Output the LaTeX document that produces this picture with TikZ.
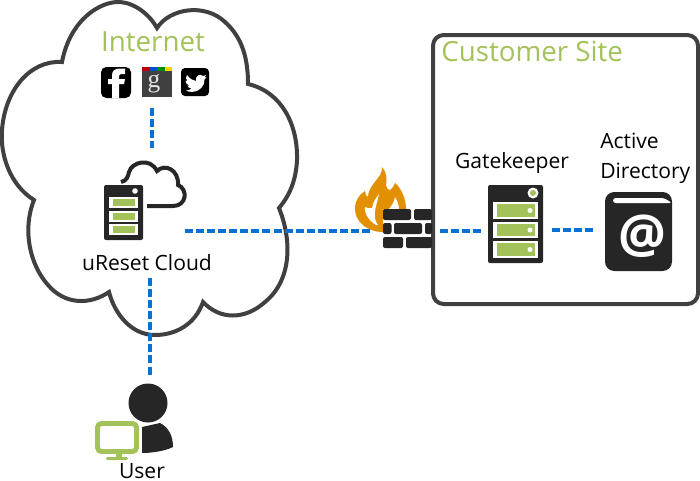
\documentclass[tikz,border=0pt]{standalone}
\usepackage{fontspec}
\setmainfont{Open Sans}
\newfontfamily\gfont{Liberation Serif}
\usetikzlibrary{calc}
\definecolor{edge}{HTML}{404040}
\definecolor{ink}{HTML}{262626}
\definecolor{leaf}{HTML}{A4C25A}
\definecolor{wire}{HTML}{0A70D2}
\definecolor{flame}{HTML}{E29000}
\tikzset{
  x=0.75pt,y=-0.75pt,
  wirelink/.style={draw=wire,line width=2.5pt,dash pattern=on 6pt off 2.3pt},
  outline/.style={draw=edge,line width=3pt,line join=miter},
  label/.style={text=black,font=\fontsize{15.8}{18}\selectfont,inner sep=0pt,align=center},
  greenlabel/.style={text=leaf,font=\fontsize{20.8}{24}\selectfont,inner sep=0pt},
}
\newcommand{\rackbar}[5]{% x0,y0,x1,y1,dot
  \fill[white] (#1,#2) rectangle (#3,#4);
  \fill[leaf] (#1+3.5,#2+2.4) rectangle (#3-3.5,#4-2.4);
  \ifnum#5=1 \fill[white] ($(#3-8,{(#2+#4)/2})$) circle[radius=2.5];\fi
}
\begin{document}
\begin{tikzpicture}
\useasboundingbox (0,0) rectangle (700,480);
\fill[white] (0,0) rectangle (700,480);
% coordinates for connectors
\coordinate (socB) at (152,108);
\coordinate (srvT) at (152,148);
\coordinate (srvR) at (185,231);
\coordinate (fwL) at (370,231);
\coordinate (fwR) at (440,231);
\coordinate (gkL) at (484,231);
\coordinate (gkR) at (552,230);
\coordinate (adL) at (595,230);
\coordinate (srvB) at (150,278);
\coordinate (usrT) at (150,375);
% cloud
\draw[outline] (62,62)
  .. controls (70,20) and (100,1) .. (120,2)
  .. controls (135,3) and (150,15) .. (157,28)
  .. controls (170,8) and (205,3) .. (225,22)
  .. controls (243,38) and (248,60) .. (248,84)
  .. controls (282,92) and (298,125) .. (297,160)
  .. controls (296,180) and (290,195) .. (279,208)
  .. controls (292,240) and (292,280) .. (265,302)
  .. controls (245,320) and (220,320) .. (203,302)
  .. controls (195,325) and (175,335) .. (155,335)
  .. controls (132,335) and (115,315) .. (109,292)
  .. controls (90,305) and (65,305) .. (48,285)
  .. controls (30,265) and (22,230) .. (34,200)
  .. controls (10,185) and (0,155) .. (2,130)
  .. controls (5,90) and (30,60) .. (62,62) -- cycle;
% customer site
\draw[outline,rounded corners=8] (433,35) rectangle (698,304);
% connectors
\draw[wirelink] (socB) -- (srvT);
\draw[wirelink] (srvR) -- (fwL);
\draw[wirelink] (fwR) -- (gkL);
\draw[wirelink] (gkR) -- (adL);
\draw[wirelink] (srvB) -- (usrT);
% labels
\node[greenlabel] (internet) at (153,42) {Internet};
\node[greenlabel,anchor=west] (site) at (441,51) {Customer Site};
\node[label] (ureset) at (147,263) {uReset Cloud};
\node[label] (gate) at (512,163) {Gatekeeper};
\node[label,anchor=west,align=left] (ad) at (600,158) {Active\\[4.5pt]Directory};
\node[label] (user) at (142,471) {User};
% facebook
\fill[black,rounded corners=4] (101,67) rectangle (131,98);
\fill[white] (112,98) -- (112,84) -- (108,84) -- (108,79) -- (112,79) -- (112,75)
  .. controls (112,70) and (116,68.5) .. (120,68.5) -- (125,68.5) -- (125,74) -- (122,74)
  .. controls (120,74) and (119,75) .. (119,76) -- (119,79) -- (125,79) -- (124,84) -- (119,84) -- (119,98) -- cycle;
% google
\fill[edge] (142,67) rectangle (172,97);
\fill[red!75!black] (142,67) rectangle (149.5,71);
\fill[blue!60!cyan!80!black] (149.5,67) rectangle (157,71);
\fill[green!55!black] (157,67) rectangle (164.5,71);
\fill[yellow!70!orange] (164.5,67) rectangle (172,71);
\node[text=white!90!black,font=\gfont\fontsize{19}{20}\selectfont,inner sep=0pt] (glyph) at (154,84) {g};
% twitter
\fill[black,rounded corners=3] (181,68) rectangle (209,96);
\fill[white] (187,75) .. controls (190,79) and (193,80.5) .. (196,81)
  .. controls (195,76) and (200,73) .. (203,76) -- (206,75) -- (204.5,77.5) -- (206.5,77)
  -- (204.5,79.5) .. controls (205,86) and (199,92) .. (192,92)
  .. controls (189,92) and (187,91) .. (186,90.5)
  .. controls (188.5,90.5) and (190,90) .. (191.5,88.5)
  .. controls (189,88.5) and (188,87) .. (187.5,85.5) -- (189.5,85.5)
  .. controls (187,85) and (185.5,83) .. (185.5,80.5) -- (187.5,81)
  .. controls (185.5,79.5) and (185.5,77) .. (187,75) -- cycle;
% small cloud behind server
\draw[draw=ink,line width=3pt] (121,182)
  .. controls (127,181) and (128,176) .. (129,172)
  .. controls (132,162) and (150,157) .. (157,171)
  .. controls (165,163) and (179,170) .. (178,185)
  .. controls (188,189) and (187,206) .. (173,206) -- (147,206);
% uReset server
\fill[ink,rounded corners=1.5] (104,185) rectangle (143,240);
\fill[white] (135,191) circle[radius=2.8];
\rackbar{109}{197}{138}{208}{0}
\rackbar{109}{211}{138}{222}{0}
\rackbar{109}{224}{138}{235}{0}
% firewall
\fill[flame] (382,232) .. controls (368,232) and (354,222) .. (355,207)
  .. controls (356,199) and (360,194) .. (365,191)
  .. controls (365,194) and (366,196) .. (368,197)
  .. controls (368,187) and (378,180) .. (381,173)
  .. controls (382,171) and (382,169) .. (382,167)
  .. controls (387,172) and (387,180) .. (386,185)
  .. controls (386,188) and (388,190) .. (390,190)
  .. controls (392,189) and (394,186) .. (395,183)
  .. controls (401,188) and (406,198) .. (406,209)
  -- (383,209) -- (383,232) -- cycle;
\fill[white] (376,225) .. controls (371,222) and (364,215) .. (365,207)
  .. controls (367,208) and (370,209) .. (372,208)
  .. controls (373,202) and (376,198) .. (379,194)
  .. controls (378,200) and (374,210) .. (375,216)
  .. controls (375,220) and (376,223) .. (378,225) -- cycle;
\fill[white] (389,209) .. controls (391,206) and (394,203) .. (395,197)
  .. controls (397,200) and (399,205) .. (399,209) -- cycle;
\foreach \xa/\ya/\xb/\yb in {383/209/411/220,414/209/432/220,383/223/391.5/234,394/223/422/234,425/223/432/234,383/237/403/248,406/237/432/248}
  \fill[ink,rounded corners=1.5] (\xa,\ya) rectangle (\xb,\yb);
% gatekeeper server
\fill[ink,rounded corners=1.5] (488,185) rectangle (543,263);
\fill[white] (533,193) circle[radius=5.5];
\fill[leaf] (533,193) circle[radius=3];
\rackbar{493}{202}{538}{219}{1}
\rackbar{493}{222}{538}{238}{1}
\rackbar{493}{241}{538}{258}{1}
% active directory book
\fill[ink,rounded corners=7] (605,192) -- (672,192) -- (672,271) -- (605,271) -- cycle;
\fill[white,rounded corners=2] (613,198) -- (664,198) -- (672,203) -- (613,203) -- cycle;
\node[text=white,font=\fontsize{40}{40}\selectfont\bfseries,inner sep=0pt] (at) at (642,236) {@};
% user
\fill[ink] (148,403) circle[radius=19.5];
\fill[ink] (142,427) -- (160,423) .. controls (168,427) and (173,435) .. (173,447)
  .. controls (165,451) and (152,453) .. (142,453) -- cycle;
\fill[leaf] (116,454) rectangle (122,459);
\fill[leaf,rounded corners=1] (106,457) rectangle (128,460);
\draw[draw=leaf,fill=white,line width=3.7pt,rounded corners=3] (97.5,423.5) rectangle (136.5,451.5);
\end{tikzpicture}
\end{document}
